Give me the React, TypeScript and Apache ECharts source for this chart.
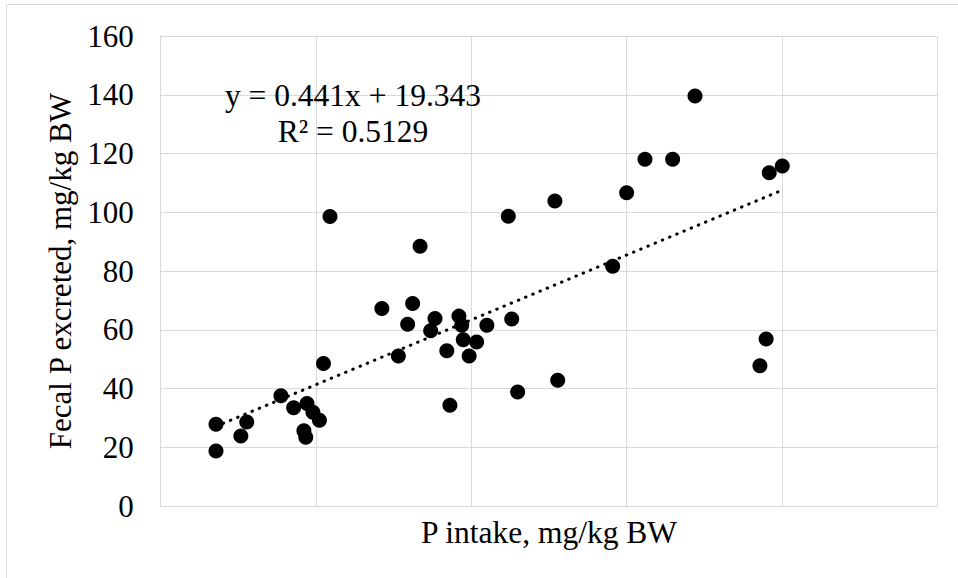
import React, { useEffect, useRef } from "react";
import * as echarts from "echarts";

// P intake (mg/kg BW) for each observation
const intake: number[] = [
  17.8, 17.8, 25.8, 27.7, 38.7, 42.8, 47.1, 49.0, 51.1, 46.1, 46.7, 52.4, 54.5,
  71.2, 81.1, 79.5, 76.5, 83.5, 88.3, 86.9, 96.0, 96.9, 97.4, 101.7, 99.3, 92.1,
  105.0, 93.1, 111.9, 113.0, 114.9, 126.9, 127.8, 145.5, 150.0, 155.9, 164.8,
  172.0, 195.9, 200.1, 194.9, 192.9,
];

// Fecal P excreted (mg/kg BW) for each observation
const excreted: number[] = [
  27.9, 18.8, 23.9, 28.7, 37.6, 33.5, 35.0, 32.0, 29.3, 25.7, 23.5, 48.6, 98.6,
  67.3, 69.0, 61.9, 51.1, 88.5, 63.9, 59.7, 64.7, 61.6, 56.7, 55.9, 51.1, 52.9,
  61.6, 34.4, 98.7, 63.7, 38.9, 103.9, 42.9, 81.7, 106.7, 118.1, 118.1, 139.6,
  113.5, 115.8, 56.9, 47.8,
];

// Linear trendline as stated in the equation label
const slope = 0.441;
const intercept = 19.343;
const equationLines: string[] = ["y = 0.441x + 19.343", "R\u00B2 = 0.5129"];

const xTitle = "P intake, mg/kg BW";
const yTitle = "Fecal P excreted, mg/kg BW";

const FONT = "Liberation Serif";
const GRID = "#d9d9d9";

export default function App() {
  const ref = useRef<HTMLDivElement>(null);

  useEffect(() => {
    document.body.style.margin = "0";
    if (!ref.current) return;
    const chart = echarts.init(ref.current, undefined, { renderer: "svg" });

    const points = intake.map((x, i) => [x, excreted[i]]);
    const xMin = Math.min(...intake);
    const xMax = Math.max(...intake);
    const trend = [
      [xMin, slope * xMin + intercept],
      [xMax, slope * xMax + intercept],
    ];

    const eqText = (text: string, y: number) => ({
      type: "text",
      x: 353,
      y,
      z: 10,
      style: {
        text,
        fontFamily: FONT,
        fontSize: 31.5,
        fill: "#000",
        align: "center",
        verticalAlign: "middle",
      },
    });

    chart.setOption({
      animation: false,
      backgroundColor: "#ffffff",
      textStyle: { fontFamily: FONT },
      grid: { left: 160.7, top: 36, right: 20.7, bottom: 71.7 },
      xAxis: {
        type: "value",
        min: 0,
        max: 250,
        interval: 50,
        name: xTitle,
        nameLocation: "middle",
        nameGap: 10,
        nameTextStyle: { fontFamily: FONT, fontSize: 31.5, color: "#000" },
        axisLine: { show: true, lineStyle: { color: GRID, width: 1 } },
        axisTick: { show: false },
        axisLabel: { show: false },
        splitLine: { show: true, lineStyle: { color: GRID, width: 1 } },
      },
      yAxis: {
        type: "value",
        min: 0,
        max: 160,
        interval: 20,
        name: yTitle,
        nameLocation: "middle",
        nameRotate: 90,
        nameGap: 84,
        nameTextStyle: { fontFamily: FONT, fontSize: 31, color: "#000" },
        axisLine: { show: true, lineStyle: { color: GRID, width: 1 } },
        axisTick: { show: false },
        axisLabel: {
          margin: 27,
          fontFamily: FONT,
          fontSize: 31,
          color: "#000",
        },
        splitLine: { show: true, lineStyle: { color: GRID, width: 1 } },
      },
      graphic: [
        {
          type: "rect",
          silent: true,
          shape: { x: 6.5, y: 4.5, width: 1000, height: 1000 },
          style: { fill: "none", stroke: GRID, lineWidth: 1 },
          z: -10,
        },
        eqText(equationLines[0], 95.5),
        eqText(equationLines[1], 131.5),
      ],
      series: [
        {
          type: "scatter",
          data: points,
          symbol: "circle",
          symbolSize: 15,
          itemStyle: { color: "#000", opacity: 1 },
          z: 2,
        },
        {
          type: "line",
          data: trend,
          symbol: "none",
          silent: true,
          lineStyle: {
            color: "#000",
            width: 3,
            type: [0.5, 7.3],
            cap: "round",
          },
          z: 3,
        },
      ],
    });

    return () => chart.dispose();
  }, []);

  return <div ref={ref} style={{ width: 958, height: 578 }} />;
}
